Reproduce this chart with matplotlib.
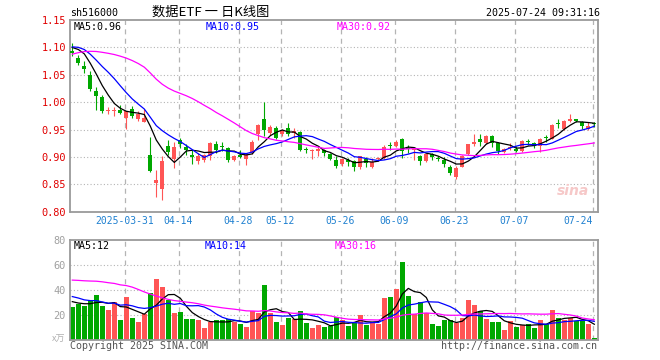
import matplotlib
matplotlib.use('Agg')
import matplotlib.pyplot as plt
import numpy as np
import pandas as pd

# sh516000 daily candles, 2025-03-18 .. 2025-07-24 (88 sessions)
opens = [1.093, 1.081, 1.066, 1.049, 1.020, 1.010, 0.984, 0.983, 0.986, 0.971,
         0.987, 0.970, 0.963, 0.903, 0.852, 0.842, 0.920, 0.896, 0.931, 0.918,
         0.904, 0.893, 0.895, 0.901, 0.924, 0.920, 0.916, 0.894, 0.904, 0.897,
         0.908, 0.941, 0.970, 0.943, 0.953, 0.941, 0.953, 0.943, 0.945, 0.913,
         0.910, 0.910, 0.913, 0.906, 0.895, 0.887, 0.895, 0.893, 0.881, 0.896,
         0.881, 0.897, 0.898, 0.921, 0.920, 0.932, 0.915, 0.912, 0.902, 0.892,
         0.905, 0.898, 0.894, 0.881, 0.864, 0.882, 0.906, 0.923, 0.933, 0.926,
         0.938, 0.926, 0.909, 0.916, 0.915, 0.911, 0.928, 0.926, 0.920, 0.936,
         0.933, 0.962, 0.951, 0.966, 0.970, 0.964, 0.951, 0.961]
highs = [1.108, 1.086, 1.076, 1.057, 1.028, 1.013, 0.991, 0.991, 0.994, 0.984,
         0.993, 0.984, 0.987, 0.937, 0.877, 0.902, 0.931, 0.927, 0.935, 0.923,
         0.912, 0.907, 0.906, 0.928, 0.929, 0.927, 0.918, 0.904, 0.913, 0.907,
         0.930, 0.960, 1.000, 0.958, 0.956, 0.951, 0.962, 0.952, 0.947, 0.918,
         0.914, 0.918, 0.914, 0.908, 0.901, 0.898, 0.898, 0.895, 0.902, 0.900,
         0.898, 0.900, 0.921, 0.927, 0.930, 0.934, 0.921, 0.915, 0.904, 0.906,
         0.907, 0.902, 0.900, 0.885, 0.883, 0.903, 0.924, 0.941, 0.941, 0.940,
         0.940, 0.927, 0.917, 0.926, 0.920, 0.931, 0.932, 0.927, 0.935, 0.940,
         0.960, 0.970, 0.967, 0.978, 0.970, 0.966, 0.964, 0.964]
lows = [1.085, 1.068, 1.054, 1.020, 0.985, 0.980, 0.978, 0.975, 0.978, 0.951,
        0.971, 0.966, 0.963, 0.873, 0.827, 0.822, 0.903, 0.879, 0.917, 0.904,
        0.887, 0.887, 0.890, 0.895, 0.907, 0.911, 0.891, 0.892, 0.898, 0.886,
        0.906, 0.930, 0.938, 0.940, 0.933, 0.938, 0.939, 0.935, 0.911, 0.907,
        0.897, 0.901, 0.901, 0.895, 0.879, 0.884, 0.884, 0.875, 0.878, 0.881,
        0.879, 0.892, 0.896, 0.912, 0.919, 0.898, 0.908, 0.895, 0.886, 0.890,
        0.894, 0.892, 0.881, 0.867, 0.859, 0.881, 0.904, 0.920, 0.920, 0.923,
        0.918, 0.906, 0.907, 0.912, 0.909, 0.909, 0.921, 0.917, 0.909, 0.927,
        0.932, 0.952, 0.949, 0.964, 0.963, 0.951, 0.949, 0.955]
closes = [1.089, 1.072, 1.060, 1.024, 1.011, 0.984, 0.985, 0.984, 0.980, 0.984,
          0.974, 0.978, 0.971, 0.874, 0.857, 0.892, 0.909, 0.918, 0.923, 0.912,
          0.899, 0.902, 0.904, 0.926, 0.912, 0.918, 0.895, 0.902, 0.899, 0.904,
          0.928, 0.959, 0.949, 0.954, 0.935, 0.949, 0.941, 0.948, 0.913, 0.912,
          0.911, 0.914, 0.907, 0.897, 0.883, 0.896, 0.890, 0.881, 0.902, 0.889,
          0.891, 0.898, 0.918, 0.920, 0.928, 0.910, 0.914, 0.913, 0.892, 0.905,
          0.900, 0.897, 0.887, 0.871, 0.880, 0.901, 0.923, 0.927, 0.928, 0.938,
          0.926, 0.911, 0.915, 0.917, 0.911, 0.929, 0.927, 0.920, 0.933, 0.935,
          0.958, 0.961, 0.966, 0.970, 0.966, 0.956, 0.956, 0.960]
volumes = [26.4, 28.5, 27.2, 32.0, 36.0, 27.2, 24.0, 30.4, 16.0, 34.4,
           17.6, 14.4, 20.8, 37.6, 48.8, 42.4, 31.7, 21.6, 22.7, 16.8,
           16.8, 16.0, 9.6, 14.4, 16.0, 16.0, 16.5, 14.7, 12.8, 10.4,
           23.2, 21.3, 44.3, 21.9, 14.4, 11.7, 17.6, 16.5, 23.2, 13.6,
           9.6, 12.0, 10.4, 11.2, 18.1, 16.0, 11.2, 13.9, 20.0, 12.0,
           14.7, 12.8, 33.6, 34.4, 40.8, 62.4, 35.2, 20.8, 30.4, 21.3,
           12.8, 11.2, 16.0, 16.0, 14.0, 18.0, 32.0, 28.0, 23.2, 16.8,
           14.4, 14.4, 8.0, 15.2, 10.7, 11.7, 12.8, 9.9, 16.0, 12.5,
           24.0, 17.9, 16.0, 18.0, 15.0, 15.5, 12.5, 1.9]

# 29 sessions before the window, only needed to start the moving averages
prior_closes = [0.99, 1.00, 1.01, 1.02, 1.03, 1.04, 1.05, 1.07, 1.09, 1.11,
                1.14, 1.17, 1.19, 1.20, 1.17, 1.12, 1.08, 1.05, 1.04, 1.05,
                1.08, 1.10, 1.11, 1.12, 1.10, 1.09, 1.10, 1.11, 1.11]
prior_volumes = [35, 37, 38, 40, 42, 45, 48, 50, 52, 55,
                 70, 80, 90, 95, 85, 70, 50, 40, 35, 33,
                 40, 42, 38, 36, 38, 34, 30, 32, 31]

holidays = ['2025-04-04', '2025-05-01', '2025-05-02', '2025-05-05', '2025-06-02']
tick_dates = ['2025-03-31', '2025-04-14', '2025-04-28', '2025-05-12', '2025-05-26',
              '2025-06-09', '2025-06-23', '2025-07-07', '2025-07-24']
tick_labels = ['2025-03-31', '04-14', '04-28', '05-12', '05-26',
               '06-09', '06-23', '07-07', '07-24']
price_ticks = [0.80, 0.85, 0.90, 0.95, 1.00, 1.05, 1.10, 1.15]
vol_ticks = [20, 40, 60, 80]

RED = '#ff5555'
GREEN = '#00a800'
GRID = '#b4b4b4'
FRAME = '#9a9a9a'
W, H = 660, 360


def px(x, y):
    # pixel position (from top-left) -> figure fraction
    return x / W, 1 - y / H


def style_axes(ax):
    for s in ax.spines.values():
        s.set_color(FRAME)
        s.set_linewidth(1.3)
    ax.tick_params(axis='both', length=0)


def main():
    plt.rcParams['font.family'] = ['DejaVu Sans Mono', 'Noto Sans CJK SC']

    days = pd.bdate_range('2025-03-18', '2025-07-24')
    days = days[~days.isin(pd.to_datetime(holidays))]
    idx = np.arange(len(days))
    tick_pos = [days.get_loc(pd.Timestamp(d)) - 0.3 for d in tick_dates]

    o = np.array(opens)
    h = np.array(highs)
    l = np.array(lows)
    c = np.array(closes)
    v = np.array(volumes)
    up = c >= o
    colors = np.where(up, RED, GREEN)

    all_c = pd.Series(prior_closes + closes)
    all_v = pd.Series(prior_volumes + volumes)
    n0 = len(prior_closes)
    ma_c = {n: all_c.rolling(n).mean().values[n0:] for n in (5, 10, 30)}
    ma_v = {n: all_v.rolling(n).mean().values[n0:] for n in (5, 10, 30)}

    fig = plt.figure(figsize=(6.6, 3.6), dpi=100)
    x0, x1 = 70, 598
    ax = fig.add_axes([x0 / W, 1 - 211.7 / H, (x1 - x0) / W, (211.7 - 20) / H])
    axv = fig.add_axes([x0 / W, 1 - 340 / H, (x1 - x0) / W, 100 / H])
    xmin = (x0 - 72.3) / 6
    xmax = (x1 - 72.3) / 6

    # ---- price panel
    style_axes(ax)
    ax.set_xlim(xmin, xmax)
    ax.set_ylim(0.80, 1.15)
    for p in price_ticks[1:-1]:
        ax.axhline(p, color=GRID, lw=0.8, ls=(0, (1, 2)), zorder=0)
    for t in tick_pos:
        ax.axvline(t, color=GRID, lw=0.9, ls=(0, (4, 3.5)), zorder=0)

    ax.vlines(idx, l, h, colors=colors, lw=0.8, zorder=2)
    body = np.maximum(np.abs(c - o), 0.0018)
    ax.bar(idx, body, bottom=np.minimum(o, c), width=0.72, color=colors,
           linewidth=0, zorder=3)
    ax.plot(idx, ma_c[5], color='black', lw=0.9, zorder=4)
    ax.plot(idx, ma_c[10], color='#0000ff', lw=0.9, zorder=4)
    ax.plot(idx, ma_c[30], color='#ff00ff', lw=0.9, zorder=4)

    ax.set_yticks(price_ticks)
    ax.set_yticklabels(['%.2f' % p for p in price_ticks])
    ax.tick_params(axis='y', labelcolor='#e00000', labelsize=7.4, pad=3)
    ax.set_xticks(tick_pos)
    ax.set_xticklabels(tick_labels)
    ax.tick_params(axis='x', labelcolor='#1f80d0', labelsize=7.0, pad=3)
    ax.get_xticklabels()[-1].set_horizontalalignment('right')

    # faint sina watermark, lower right of the price panel
    fig.text(*px(557, 191), 'sina', color='#f6c8c8', fontsize=10,
             fontweight='bold', style='italic', family='DejaVu Sans',
             ha='left', va='center', zorder=1)

    # ---- volume panel
    style_axes(axv)
    axv.set_xlim(xmin, xmax)
    axv.set_ylim(0, 80)
    for q in vol_ticks[:-1]:
        axv.axhline(q, color=GRID, lw=0.8, ls=(0, (1, 2)), zorder=0)
    for t in tick_pos:
        axv.axvline(t, color=GRID, lw=0.9, ls=(0, (4, 3.5)), zorder=0)
    axv.bar(idx, v, width=0.8, color=colors, linewidth=0, zorder=2)
    axv.plot(idx, ma_v[5], color='black', lw=0.9, zorder=4)
    axv.plot(idx, ma_v[10], color='#0000ff', lw=0.9, zorder=4)
    axv.plot(idx, ma_v[30], color='#ff00ff', lw=0.9, zorder=4)
    axv.set_yticks(vol_ticks)
    axv.set_yticklabels([str(q) for q in vol_ticks])
    axv.tick_params(axis='y', labelcolor='#a0a0a0', labelsize=7.4, pad=3)
    axv.set_xticks([])

    # ---- texts
    fs = 7.2
    fig.text(*px(70, 13), 'sh516000', fontsize=fs, ha='left', va='center')
    fig.text(*px(211, 12), '数据ETF 一 日K线图', fontsize=9.5, ha='center',
             va='center', family=['Noto Sans CJK SC', 'DejaVu Sans'])
    fig.text(*px(600, 13), '2025-07-24 09:31:16', fontsize=fs, ha='right', va='center')

    fig.text(*px(74, 27), 'MA5:0.96', fontsize=fs, color='black', va='center')
    fig.text(*px(206, 27), 'MA10:0.95', fontsize=fs, color='#0000ff', va='center')
    fig.text(*px(337, 27), 'MA30:0.92', fontsize=fs, color='#ff00ff', va='center')

    fig.text(*px(74, 246), 'MA5:12', fontsize=fs, color='black', va='center')
    fig.text(*px(205, 246), 'MA10:14', fontsize=fs, color='#0000ff', va='center')
    fig.text(*px(335, 246), 'MA30:16', fontsize=fs, color='#ff00ff', va='center')

    fig.text(*px(65, 339), 'x万', fontsize=6.5, color='#b0b0b0', ha='right', va='center',
             family=['Noto Sans CJK SC', 'DejaVu Sans'])
    fig.text(*px(70, 346), 'Copyright 2025 SINA.COM', fontsize=fs, color='#555555',
             ha='left', va='center')
    fig.text(*px(597, 346), 'http://finance.sina.com.cn', fontsize=fs, color='#555555',
             ha='right', va='center')

    fig.savefig('out.png', dpi=100)


if __name__ == '__main__':
    main()
